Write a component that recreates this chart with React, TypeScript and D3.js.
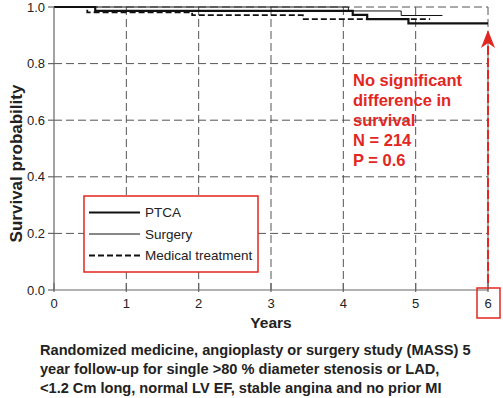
import React from "react";
import * as d3 from "d3";

const xTicks = [0, 1, 2, 3, 4, 5, 6];
const yTicks = [0, 0.2, 0.4, 0.6, 0.8, 1.0];

// Kaplan-Meier steps: [time (years), survival]
const ptcaSteps: [number, number][] = [
  [0, 1.0], [0.57, 0.986], [4.13, 0.972], [4.33, 0.957], [4.9, 0.942], [6.0, 0.942],
];
const surgerySteps: [number, number][] = [
  [0, 1.0], [4.07, 0.986], [4.8, 0.97], [5.37, 0.97],
];
const medicalSteps: [number, number][] = [
  [0, 1.0], [0.46, 0.981], [1.91, 0.971], [3.44, 0.957], [5.2, 0.957],
];

const legendItems = [
  { label: "PTCA", width: 2.2, dash: "none" },
  { label: "Surgery", width: 1, dash: "none" },
  { label: "Medical treatment", width: 1.8, dash: "6,3" },
];

const annotationLines = ["No significant", "difference in", "survival", "N = 214", "P = 0.6"];
const captionLines = [
  "Randomized medicine, angioplasty or surgery study (MASS) 5",
  "year follow-up for single >80 % diameter stenosis or LAD,",
  "<1.2 Cm long, normal LV EF, stable angina and no prior MI",
];

export default function App() {
  const x = d3.scaleLinear().domain([0, 6]).range([54, 488]);
  const y = d3.scaleLinear().domain([0, 1]).range([290, 7]);
  const line = d3
    .line<[number, number]>()
    .x((d) => x(d[0]))
    .y((d) => y(d[1]))
    .curve(d3.curveStepAfter);
  const red = "#e3261f";
  const font = "'Liberation Sans', Arial, Helvetica, sans-serif";
  const gridColor = "#555";

  return (
    <svg
      width={503}
      height={398}
      style={{ position: "absolute", left: 0, top: 0, background: "#fff" }}
      fontFamily={font}
    >
      {/* grid */}
      {xTicks.slice(1).map((t) => (
        <line key={"gx" + t} x1={x(t)} x2={x(t)} y1={y(1)} y2={y(0)} stroke={gridColor} strokeWidth={1} strokeDasharray="8,4" />
      ))}
      {yTicks.slice(1).map((t) => (
        <line key={"gy" + t} x1={x(0)} x2={x(6)} y1={y(t)} y2={y(t)} stroke={gridColor} strokeWidth={1} strokeDasharray="8,4" />
      ))}

      {/* curves */}
      <path d={line(medicalSteps) || ""} fill="none" stroke="#111" strokeWidth={1.8} strokeDasharray="6,3" />
      <path d={line(surgerySteps) || ""} fill="none" stroke="#111" strokeWidth={1} />
      <path d={line(ptcaSteps) || ""} fill="none" stroke="#111" strokeWidth={2.2} />

      {/* axes */}
      <line x1={x(0)} x2={x(0)} y1={y(1)} y2={y(0)} stroke="#666" strokeWidth={1.2} />
      <line x1={x(0)} x2={x(6)} y1={y(0)} y2={y(0)} stroke="#666" strokeWidth={1.2} />
      {yTicks.map((t) => (
        <g key={"yt" + t}>
          <line x1={x(0) - 6} x2={x(0)} y1={y(t)} y2={y(t)} stroke="#666" strokeWidth={1.2} />
          <text x={x(0) - 9} y={y(t)} dy="0.35em" textAnchor="end" fontSize={13} fill="#222">
            {t.toFixed(1)}
          </text>
        </g>
      ))}
      {xTicks.map((t) => (
        <g key={"xt" + t}>
          <line x1={x(t)} x2={x(t)} y1={y(0) - 7} y2={y(0) + 2} stroke="#666" strokeWidth={1.2} />
          <text x={x(t)} y={308} textAnchor="middle" fontSize={13} fill="#222">
            {t}
          </text>
        </g>
      ))}
      <text x={271} y={328} textAnchor="middle" fontSize={15.5} fontWeight="bold" fill="#222">
        Years
      </text>
      <text
        transform={`translate(22,${(y(0) + y(1)) / 2 + 15}) rotate(-90)`}
        textAnchor="middle"
        fontSize={17}
        fontWeight="bold"
        fill="#222"
      >
        Survival probability
      </text>

      {/* red arrow and dashed line */}
      <line x1={x(6)} x2={x(6)} y1={46} y2={286} stroke={red} strokeWidth={2} strokeDasharray="9,3" />
      <path
        d={`M${x(6)},30 L${x(6) + 7},48 L${x(6)},43 L${x(6) - 7},48 Z`}
        fill={red}
      />
      <rect x={477} y={288} width={23} height={30} fill="none" stroke={red} strokeWidth={1.5} />

      {/* annotation */}
      {annotationLines.map((s, i) => (
        <text key={s} x={353} y={86 + i * 20} fontSize={16.5} fontWeight="bold" fill={red}>
          {s}
        </text>
      ))}

      {/* legend */}
      <rect x={84} y={196} width={174} height={76} fill="#fff" stroke={red} strokeWidth={1.5} />
      {legendItems.map((it, i) => (
        <g key={it.label}>
          <line
            x1={89}
            x2={140}
            y1={212.5 + i * 21.5}
            y2={212.5 + i * 21.5}
            stroke="#111"
            strokeWidth={it.width}
            strokeDasharray={it.dash}
          />
          <text x={145} y={212.5 + i * 21.5} dy="0.35em" fontSize={13.5} fill="#222">
            {it.label}
          </text>
        </g>
      ))}

      {/* caption */}
      {captionLines.map((s, i) => (
        <text key={i} x={40} y={355 + i * 19} fontSize={14.6} fontWeight="bold" fill="#222">
          {s}
        </text>
      ))}
    </svg>
  );
}
